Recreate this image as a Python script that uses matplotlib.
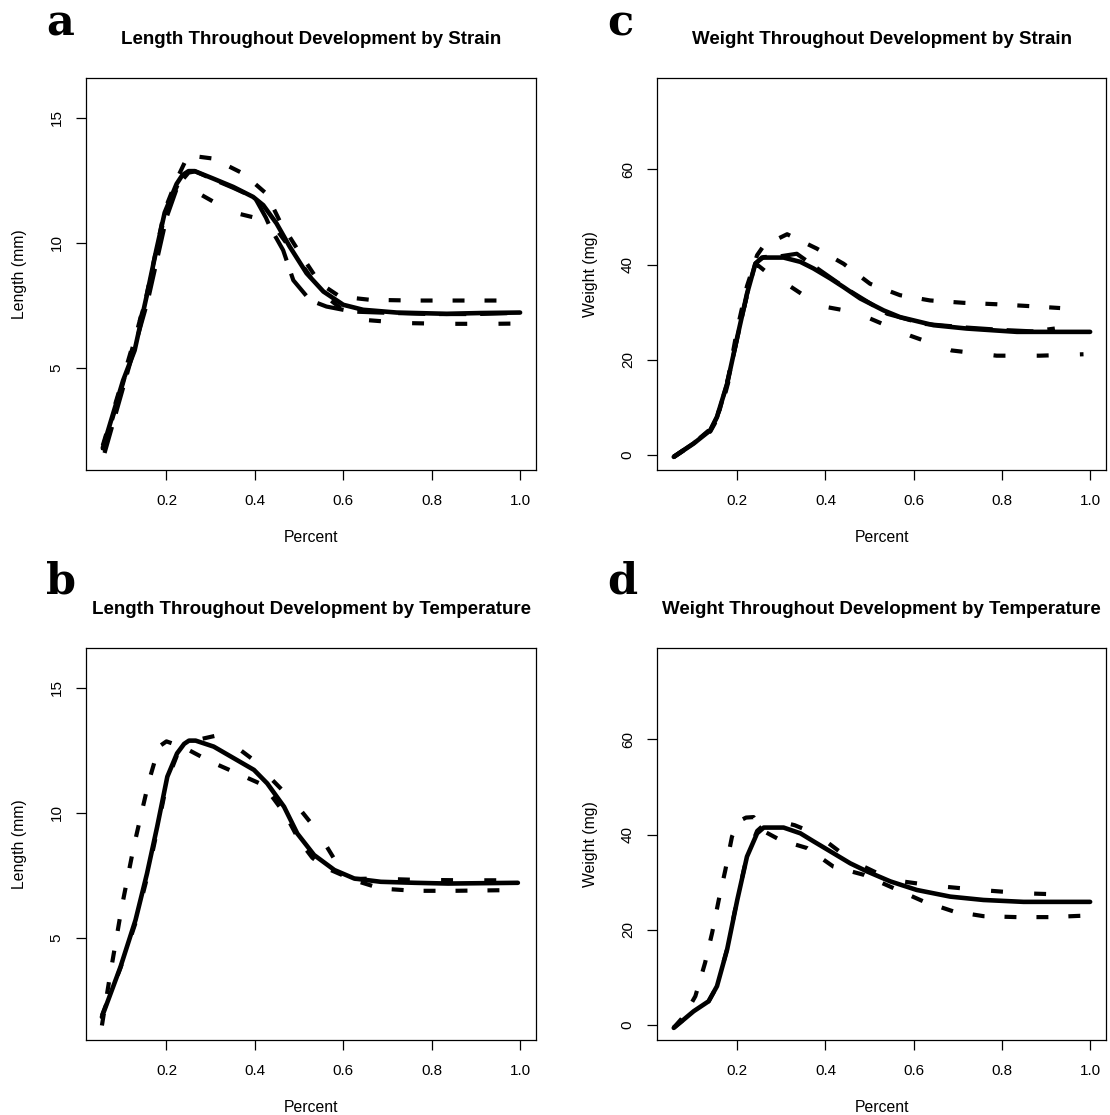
import matplotlib
matplotlib.use("Agg")
import matplotlib.pyplot as plt

plt.rcParams['font.family'] = ['Liberation Sans', 'DejaVu Sans']
plt.rcParams['lines.scale_dashes'] = False

W, H = 1110, 1115

# ---------------- Panel a: Length by strain ----------------
a_solid_x = [0.056, 0.102, 0.128, 0.155, 0.177, 0.196, 0.223, 0.236, 0.25, 0.264, 0.306, 0.351, 0.396, 0.419,
             0.449, 0.479, 0.517, 0.555, 0.600, 0.645, 0.721, 0.834, 0.909, 1.0]
a_solid_y = [1.8, 4.5, 5.7, 7.85, 9.7, 11.2, 12.35, 12.7, 12.86, 12.86, 12.56, 12.23, 11.83, 11.5,
             10.77, 9.84, 8.78, 8.05, 7.52, 7.32, 7.21, 7.16, 7.19, 7.21]
a_s1_x = [0.056, 0.102, 0.155, 0.196, 0.225, 0.249, 0.306, 0.374, 0.426, 0.457, 0.502, 0.547, 0.592,
          0.66, 0.758, 0.99]
a_s1_y = [1.7, 4.4, 7.9, 11.3, 12.6, 13.49, 13.36, 12.76, 11.96, 10.84, 9.58, 8.38, 7.85,
          7.72, 7.69, 7.69]
a_s2_x = [0.056, 0.102, 0.155, 0.196, 0.225, 0.245, 0.26, 0.347, 0.4, 0.45, 0.5, 0.55, 0.6, 0.645,
          0.74, 0.834, 0.94, 0.99]
a_s2_y = [1.9, 4.6, 7.8, 11.1, 12.3, 12.45, 12.1, 11.23, 11.0, 10.5, 9.3, 8.0, 7.3, 6.92,
          6.79, 6.76, 6.76, 6.77]
a_s3_x = [0.06, 0.105, 0.158, 0.2, 0.226, 0.25, 0.265, 0.31, 0.35, 0.4, 0.425, 0.434, 0.464, 0.487,
          0.525, 0.562, 0.62, 0.7, 0.8, 0.9, 1.0]
a_s3_y = [1.6, 4.4, 7.7, 11.0, 12.3, 12.8, 12.85, 12.5, 12.2, 11.8, 11.0, 10.64, 9.7, 8.5,
          7.7, 7.45, 7.25, 7.2, 7.15, 7.15, 7.2]

# ---------------- Panel b: Length by temperature ----------------
b_solid_x = [0.054, 0.096, 0.13, 0.156, 0.179, 0.202, 0.224, 0.24, 0.251, 0.266, 0.307, 0.353, 0.398, 0.428,
             0.466, 0.496, 0.534, 0.58, 0.625, 0.685, 0.761, 0.837, 0.995]
b_solid_y = [1.84, 3.84, 5.71, 7.57, 9.44, 11.44, 12.37, 12.75, 12.88, 12.88, 12.64, 12.17, 11.71, 11.17,
             10.24, 9.17, 8.31, 7.71, 7.37, 7.24, 7.2, 7.17, 7.2]
b_t1_x = [0.054, 0.073, 0.099, 0.126, 0.145, 0.16, 0.183, 0.2, 0.24, 0.3, 0.368, 0.42, 0.47, 0.5,
          0.53, 0.56, 0.625, 0.685, 0.761, 0.85, 0.988]
b_t1_y = [1.5, 3.57, 6.24, 8.64, 10.1, 11.24, 12.64, 12.85, 12.6, 12.04, 11.51, 11.1, 9.9, 8.9,
          8.2, 7.8, 7.3, 6.97, 6.88, 6.88, 6.91]
b_t2_x = [0.054, 0.096, 0.13, 0.156, 0.179, 0.202, 0.224, 0.251, 0.28, 0.31, 0.36, 0.399, 0.44, 0.49,
          0.54, 0.578, 0.62, 0.67, 0.76, 0.87, 0.995]
b_t2_y = [1.9, 3.8, 5.6, 7.4, 9.3, 11.3, 12.3, 12.7, 12.95, 13.07, 12.6, 12.08, 11.3, 10.4,
          9.3, 8.2, 7.35, 7.37, 7.32, 7.3, 7.3]

# ---------------- Panel c: Weight by strain ----------------
c_solid_x = [0.056, 0.101, 0.139, 0.154, 0.177, 0.2, 0.222, 0.241, 0.256, 0.305, 0.343, 0.373, 0.411,
             0.441, 0.479, 0.532, 0.569, 0.645, 0.72, 0.834, 0.909, 1.0]
c_solid_y = [-0.35, 2.45, 5.25, 8.05, 15.0, 24.8, 33.9, 40.2, 41.5, 41.5, 40.6, 39.2, 37.1,
             35.3, 32.9, 30.4, 29.0, 27.3, 26.6, 25.9, 25.9, 25.9]
c_s1_x = [0.056, 0.101, 0.139, 0.16, 0.18, 0.2, 0.222, 0.245, 0.26, 0.313, 0.38, 0.441, 0.501,
          0.569, 0.637, 0.713, 0.788, 0.864, 0.932]
c_s1_y = [-0.3, 2.5, 5.5, 9.5, 16.5, 26.5, 35.5, 42.0, 44.0, 46.4, 43.4, 40.2, 36.0,
          33.6, 32.5, 32.0, 31.7, 31.3, 30.9]
c_s2_x = [0.056, 0.101, 0.139, 0.16, 0.18, 0.2, 0.222, 0.245, 0.275, 0.316, 0.36, 0.403, 0.45,
          0.501, 0.592, 0.686, 0.788, 0.886, 0.985]
c_s2_y = [-0.4, 2.4, 5.0, 8.5, 15.5, 25.0, 33.5, 40.0, 37.8, 35.7, 33.0, 31.1, 30.3,
          28.7, 25.1, 22.0, 20.9, 20.9, 21.2]
c_s3_x = [0.056, 0.101, 0.139, 0.154, 0.177, 0.2, 0.222, 0.241, 0.26, 0.3, 0.335, 0.388, 0.45,
          0.54, 0.622, 0.72, 0.8, 0.87, 0.92]
c_s3_y = [-0.3, 2.5, 5.3, 8.0, 15.0, 24.6, 33.8, 40.3, 41.6, 41.8, 42.3, 38.8, 34.8,
          29.7, 27.6, 26.8, 26.3, 26.0, 26.6]

# ---------------- Panel d: Weight by temperature ----------------
d_solid_x = [0.056, 0.101, 0.135, 0.154, 0.177, 0.2, 0.222, 0.245, 0.26, 0.305, 0.343, 0.373, 0.411,
             0.456, 0.494, 0.547, 0.607, 0.683, 0.758, 0.849, 1.0]
d_solid_y = [-0.56, 2.93, 5.03, 8.2, 15.9, 26.3, 35.4, 40.3, 41.5, 41.5, 40.3, 38.6, 36.5,
             34.0, 32.3, 30.2, 28.4, 27.0, 26.3, 25.9, 25.9]
d_t1_x = [0.056, 0.08, 0.105, 0.127, 0.143, 0.158, 0.173, 0.188, 0.203, 0.22, 0.237, 0.255, 0.297,
          0.358, 0.418, 0.486, 0.554, 0.622, 0.69, 0.758, 0.834, 0.909, 0.985]
d_t1_y = [-0.5, 2.0, 6.1, 13.1, 19.4, 26.3, 32.6, 39.6, 42.8, 43.6, 43.7, 41.0, 38.9,
          37.2, 33.3, 31.6, 28.8, 26.0, 23.9, 22.9, 22.7, 22.7, 23.0]
d_t2_x = [0.056, 0.101, 0.135, 0.154, 0.177, 0.2, 0.222, 0.245, 0.262, 0.285, 0.33, 0.38, 0.46,
          0.55, 0.645, 0.75, 0.85, 0.952]
d_t2_y = [-0.5, 2.9, 5.0, 8.2, 16.0, 26.5, 35.5, 40.8, 42.2, 43.0, 42.0, 40.1, 34.5,
          30.5, 29.3, 28.4, 27.7, 27.4]

x_ticks = [0.2, 0.4, 0.6, 0.8, 1.0]
x_ticklabels = ["0.2", "0.4", "0.6", "0.8", "1.0"]
len_ticks = [5, 10, 15]
wt_ticks = [0, 20, 40, 60]

titles = {
    'a': "Length Throughout Development by Strain",
    'b': "Length Throughout Development by Temperature",
    'c': "Weight Throughout Development by Strain",
    'd': "Weight Throughout Development by Temperature",
}
xlabel = "Percent"
ylabel_len = "Length (mm)"
ylabel_wt = "Weight (mg)"

DENSE = (0, (8.6, 14.4))
SPARSE = (0, (8.6, 22.5))
LONG = (0, (19.5, 10.0))

fig = plt.figure(figsize=(W / 100, H / 100), dpi=100)


def rect(l, t, r, b):
    return [l / W, 1 - b / H, (r - l) / W, (b - t) / H]


def setup(ax, ylim, yticks):
    ax.set_xlim(0.018, 1.036)
    ax.set_ylim(*ylim)
    ax.set_xticks(x_ticks)
    ax.set_xticklabels(x_ticklabels)
    ax.set_yticks(yticks)
    ax.set_yticklabels([str(v) for v in yticks], rotation=90, va='center')
    ax.tick_params(direction='out', length=7, width=0.9, labelsize=11, colors='black')
    ax.tick_params(axis='x', pad=10)
    ax.tick_params(axis='y', pad=9)
    for s in ax.spines.values():
        s.set_linewidth(0.9)


def draw(ax, solid, dashed):
    ax.plot(*solid, color='black', lw=3.3, solid_capstyle='round', solid_joinstyle='round')
    for (xs, ys, ls) in dashed:
        ax.plot(xs, ys, color='black', lw=3.0, linestyle=ls, dash_capstyle='butt')


panels = [
    ('a', (86, 78, 536, 470), (0.92, 16.58), len_ticks, ylabel_len,
     (a_solid_x, a_solid_y), [(a_s1_x, a_s1_y, DENSE), (a_s2_x, a_s2_y, SPARSE), (a_s3_x, a_s3_y, LONG)]),
    ('c', (657, 78, 1106, 470), (-3.1, 79.2), wt_ticks, ylabel_wt,
     (c_solid_x, c_solid_y), [(c_s1_x, c_s1_y, DENSE), (c_s2_x, c_s2_y, SPARSE), (c_s3_x, c_s3_y, LONG)]),
    ('b', (86, 648, 536, 1040), (0.92, 16.58), len_ticks, ylabel_len,
     (b_solid_x, b_solid_y), [(b_t1_x, b_t1_y, DENSE), (b_t2_x, b_t2_y, SPARSE)]),
    ('d', (657, 648, 1106, 1040), (-3.1, 79.2), wt_ticks, ylabel_wt,
     (d_solid_x, d_solid_y), [(d_t1_x, d_t1_y, DENSE), (d_t2_x, d_t2_y, SPARSE)]),
]

for key, (l, t, r, b), ylim, yt, ylab, solid, dashed in panels:
    ax = fig.add_axes(rect(l, t, r, b))
    draw(ax, solid, dashed)
    setup(ax, ylim, yt)
    cx = (l + r) / 2
    fig.text(cx / W, 1 - (t - 38) / H, titles[key], ha='center', va='center',
             fontsize=13.5, fontweight='bold')
    fig.text(cx / W, 1 - (b + 68) / H, xlabel, ha='center', va='center', fontsize=11.3)
    fig.text((l - 66) / W, 1 - ((t + b) / 2) / H, ylab, ha='center', va='center',
             rotation=90, fontsize=11.3)
    lx = 46 if l < 300 else 607
    ly = t - 43 if key in 'ac' else t - 55
    fig.text(lx / W, 1 - ly / H, key, ha='left', va='baseline', fontsize=31,
             fontweight='bold', family='DejaVu Serif')

fig.savefig("out.png", dpi=100, facecolor='white')
